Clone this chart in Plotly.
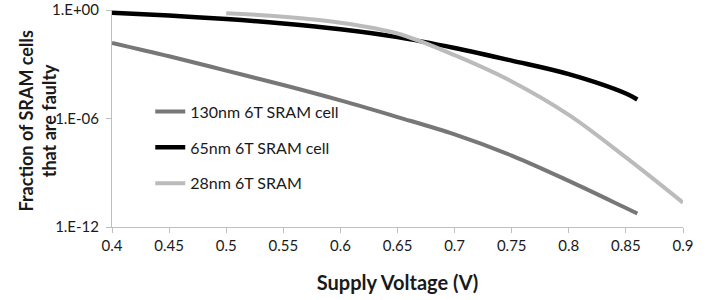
import plotly.graph_objects as go

voltage_130 = [0.40, 0.45, 0.50, 0.55, 0.60, 0.65, 0.70, 0.75, 0.80, 0.85, 0.86]
fault_130 = [10**-1.82, 10**-2.56, 10**-3.35, 10**-4.15, 10**-5.0, 10**-5.92, 10**-6.88,
             10**-8.05, 10**-9.45, 10**-10.95, 10**-11.25]

voltage_65 = [0.40, 0.45, 0.50, 0.55, 0.60, 0.65, 0.70, 0.75, 0.80, 0.85, 0.86]
fault_65 = [10**-0.15, 10**-0.31, 10**-0.5, 10**-0.75, 10**-1.07, 10**-1.5, 10**-2.1,
            10**-2.8, 10**-3.55, 10**-4.62, 10**-4.95]

voltage_28 = [0.50, 0.55, 0.60, 0.65, 0.70, 0.75, 0.80, 0.85, 0.90]
fault_28 = [10**-0.18, 10**-0.37, 10**-0.7, 10**-1.3, 10**-2.5, 10**-3.95, 10**-5.8,
            10**-8.15, 10**-10.65]

x_ticks = [0.4, 0.45, 0.5, 0.55, 0.6, 0.65, 0.7, 0.75, 0.8, 0.85, 0.9]
x_tick_labels = ["0.4", "0.45", "0.5", "0.55", "0.6", "0.65", "0.7", "0.75", "0.8", "0.85", "0.9"]
y_ticks = [1e-12, 1e-6, 1]
y_tick_labels = ["1.E-12", "1.E-06", "1.E+00"]

font = "Lato, 'Open Sans', sans-serif"
text_color = "#1a1a1a"

fig = go.Figure()
fig.add_trace(go.Scatter(x=voltage_130, y=fault_130, mode="lines", name="130nm 6T SRAM cell",
                         line=dict(color="#777777", width=4, shape="spline"), legendgroup="a"))
fig.add_trace(go.Scatter(x=voltage_65, y=fault_65, mode="lines", name="65nm 6T SRAM cell",
                         line=dict(color="#000000", width=4.5, shape="spline"), legendgroup="b"))
fig.add_trace(go.Scatter(x=voltage_28, y=fault_28, mode="lines", name="28nm 6T SRAM",
                         line=dict(color="#bbbbbb", width=4, shape="spline"), legendgroup="c"))

fig.update_layout(
    width=710, height=300,
    margin=dict(l=112, r=27, t=10, b=73),
    plot_bgcolor="white", paper_bgcolor="white",
    font=dict(family=font, size=15, color=text_color),
    showlegend=True,
    legend=dict(x=0.067, y=0.61, xanchor="left", yanchor="top", bgcolor="rgba(0,0,0,0)",
                tracegroupgap=12, itemwidth=30, font=dict(size=16, color=text_color)),
    xaxis=dict(range=[0.4, 0.9], tickvals=x_ticks, ticktext=x_tick_labels, automargin=False,
               showgrid=False, zeroline=False, showline=True, linecolor="#bfbfbf", linewidth=1,
               ticks="outside", ticklen=5, tickcolor="#bfbfbf",
               title=dict(text="<b>Supply Voltage (V)</b>", font=dict(size=20, color=text_color), standoff=22)),
    yaxis=dict(type="log", range=[-12, 0], tickvals=y_ticks, ticktext=y_tick_labels, automargin=False,
               showgrid=False, zeroline=False, showline=True, linecolor="#bfbfbf", linewidth=1,
               ticks="outside", ticklen=5, tickcolor="#bfbfbf", ticklabelstandoff=4),
    annotations=[dict(text="<b>Fraction of SRAM cells<br>that are faulty</b>", textangle=-90,
                      xref="paper", yref="paper", x=-0.13, y=0.49, xanchor="center", yanchor="middle",
                      showarrow=False, font=dict(size=18, color=text_color))],
)

fig.write_html("out.html", config={"displayModeBar": False},
               post_script="document.body.style.margin='0';")
